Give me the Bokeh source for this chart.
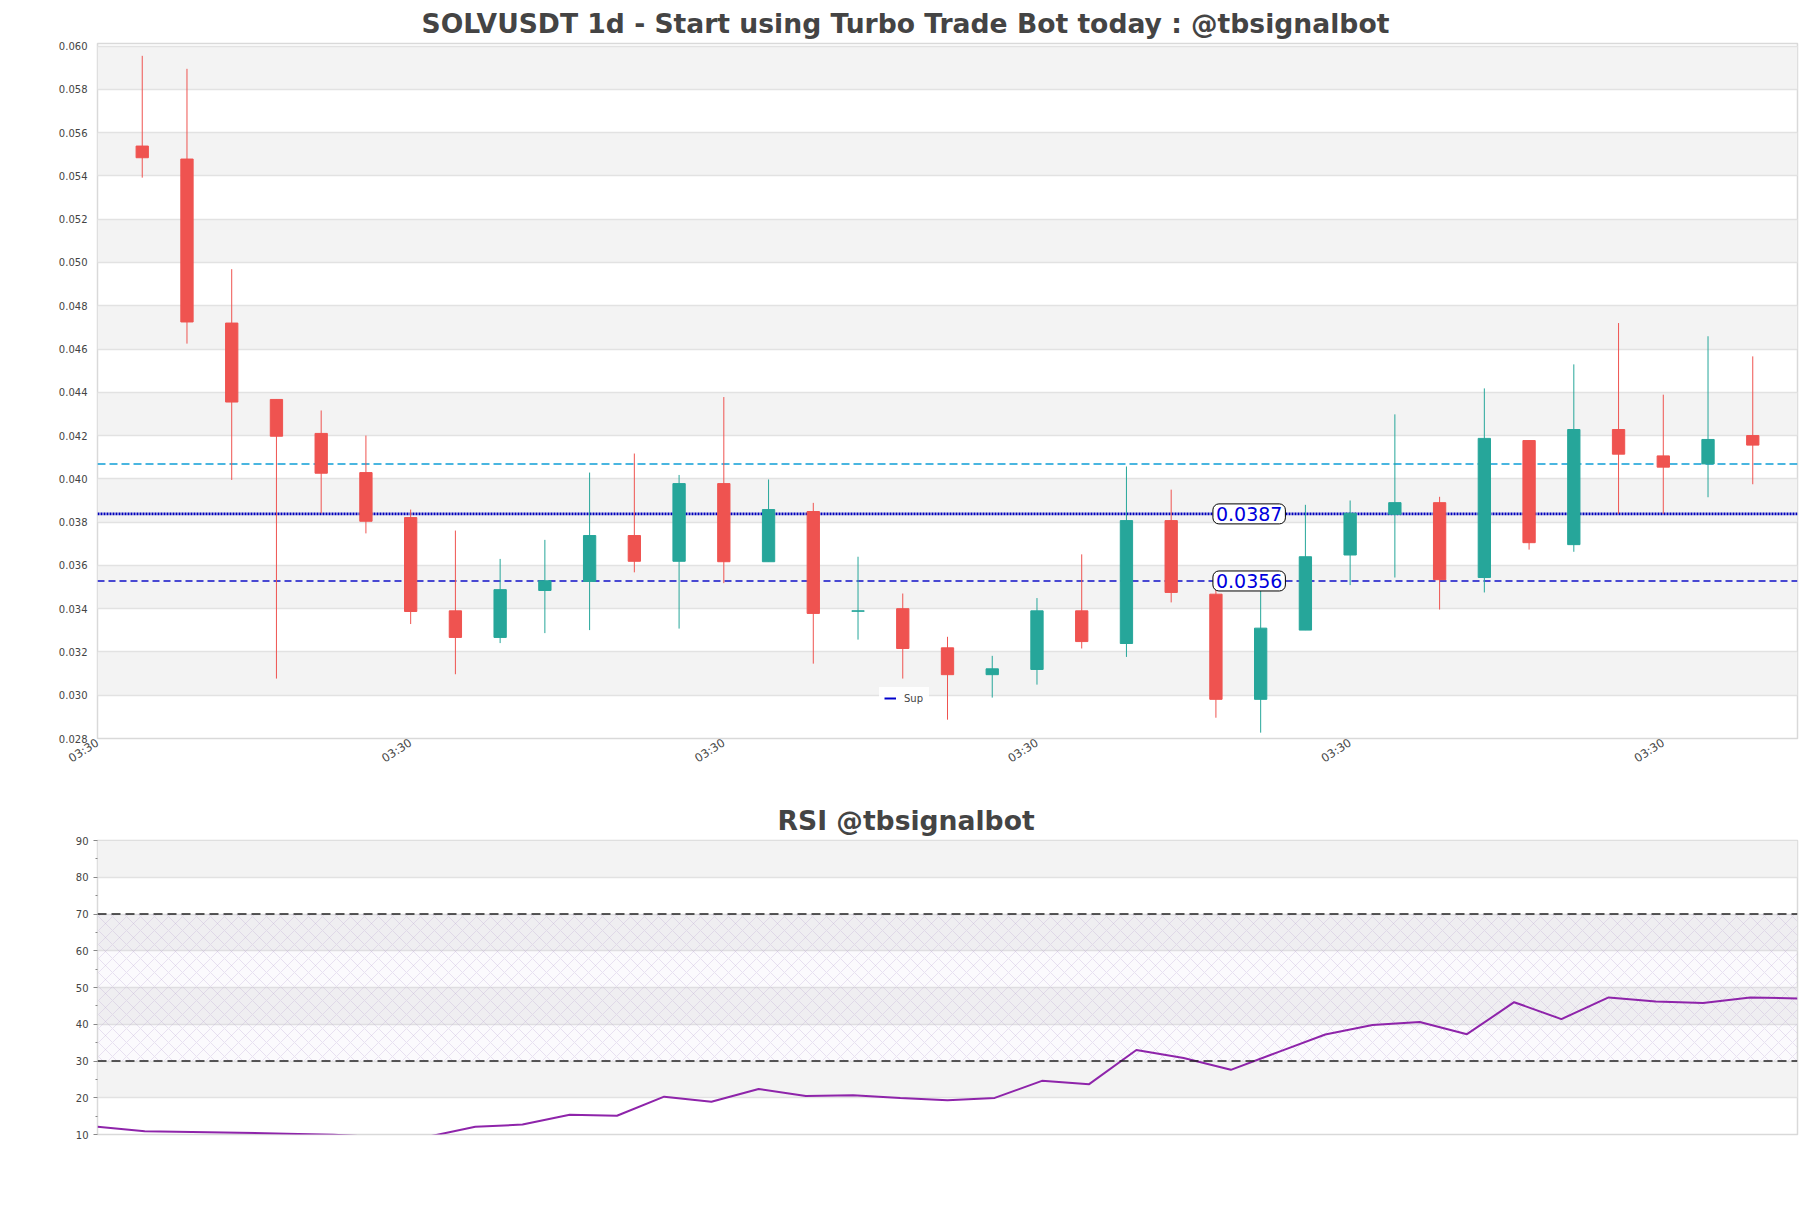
import numpy as np
import pandas as pd
from bokeh.plotting import figure
from bokeh.layouts import column
from bokeh.models import (Range1d, FixedTicker, PrintfTickFormatter,
                          DatetimeTickFormatter, Span, Label, BoxAnnotation, Legend, LegendItem)
from bokeh.embed import file_html
from bokeh.resources import INLINE

# ---------------- data ----------------
dates = pd.date_range("2025-02-18 03:30", periods=37, freq="D")
opens = [0.05538, 0.05478, 0.04720, 0.04367, 0.04210, 0.04029, 0.03821, 0.03390, 0.03267, 0.03484,
         0.03526, 0.03738, 0.03619, 0.03978, 0.03617, 0.03849, 0.03388, 0.03400, 0.03219, 0.03095,
         0.03119, 0.03390, 0.03239, 0.03807, 0.03467, 0.02981, 0.03301, 0.03648, 0.03836, 0.03890,
         0.03544, 0.04177, 0.03696, 0.04228, 0.04106, 0.04069, 0.04200]
closes = [0.05484, 0.04725, 0.04355, 0.04197, 0.04026, 0.03804, 0.03387, 0.03267, 0.03488, 0.03529,
          0.03738, 0.03619, 0.03978, 0.03617, 0.03858, 0.03378, 0.03390, 0.03216, 0.03095, 0.03122,
          0.03390, 0.03248, 0.03807, 0.03475, 0.02981, 0.03310, 0.03640, 0.03841, 0.03890, 0.03534,
          0.04187, 0.03705, 0.04228, 0.04114, 0.04054, 0.04182, 0.04156]
highs = [0.05955, 0.05895, 0.04969, 0.04367, 0.04316, 0.04200, 0.03858, 0.03761, 0.03630, 0.03718,
         0.04029, 0.04117, 0.04018, 0.04378, 0.03997, 0.03889, 0.03640, 0.03470, 0.03270, 0.03182,
         0.03449, 0.03651, 0.04057, 0.03950, 0.03490, 0.03488, 0.03880, 0.03900, 0.04298, 0.03917,
         0.04418, 0.04177, 0.04529, 0.04720, 0.04389, 0.04659, 0.04566]
lows = [0.05392, 0.04625, 0.03995, 0.03077, 0.03841, 0.03748, 0.03329, 0.03097, 0.03241, 0.03287,
        0.03301, 0.03568, 0.03308, 0.03518, 0.03617, 0.03146, 0.03257, 0.03077, 0.02887, 0.02989,
        0.03049, 0.03216, 0.03177, 0.03429, 0.02896, 0.02827, 0.03301, 0.03509, 0.03544, 0.03396,
        0.03475, 0.03673, 0.03663, 0.03838, 0.03838, 0.03915, 0.03975]
rsi = [12.1, 10.9, 10.7, 10.5, 10.2, 9.9, 9.3, 9.4, 12.1, 12.7,
       15.4, 15.1, 20.3, 18.9, 22.4, 20.5, 20.7, 19.95, 19.3, 19.95,
       24.6, 23.7, 33.0, 30.8, 27.6, 32.4, 37.2, 39.8, 40.6, 37.3,
       46.0, 41.4, 47.3, 46.2, 45.8, 47.3, 47.0]
price_ticks = [0.028, 0.030, 0.032, 0.034, 0.036, 0.038, 0.040, 0.042, 0.044,
               0.046, 0.048, 0.050, 0.052, 0.054, 0.056, 0.058, 0.060]
rsi_ticks = [10, 20, 30, 40, 50, 60, 70, 80, 90]
resistance_level = 0.04069
pivot_level = 0.03838
support_level = 0.03528
pivot_label = "0.0387"
support_label = "0.0356"
rsi_levels = [70, 30]
tick_format = "%H:%M"

# ---------------- derived ----------------
DAY = 86400000.0
x = np.array([d.timestamp() * 1000.0 for d in dates])
o = np.array(opens); c = np.array(closes)
colors = ["#26a69a" if cc >= oo else "#ef5350" for oo, cc in zip(opens, closes)]
body_top = np.maximum(o, c)
body_bot = np.minimum(o, c)

FONT = "DejaVu Sans"
W = 1811
H1 = 790
H2 = 418

# ---------------- main candle chart ----------------
p = figure(width=W, height=H1, x_axis_type="datetime", output_backend="svg", toolbar_location=None,
           x_range=Range1d(x[0] - DAY, x[-1] + DAY), y_range=Range1d(price_ticks[0], 0.06012),
           min_border_left=97, min_border_right=14, min_border_top=43, min_border_bottom=52)
p.title.text = "SOLVUSDT 1d - Start using Turbo Trade Bot today : @tbsignalbot"
p.title.align = "left"
p.title.offset = 324
p.title.text_font = FONT
p.title.text_font_size = "26.6px"
p.title.text_font_style = "bold"
p.title.text_color = "#444444"
p.outline_line_color = "#d9d9d9"
p.outline_line_width = 1.5

yt = FixedTicker(ticks=price_ticks, minor_ticks=[])
p.yaxis.ticker = yt
p.ygrid.ticker = yt
p.ygrid.band_fill_color = "#f3f3f3"
p.ygrid.band_fill_alpha = 1.0
p.ygrid.grid_line_color = "#e2e2e2"
p.ygrid.grid_line_width = 1.3
p.xgrid.visible = False
p.yaxis.formatter = PrintfTickFormatter(format="%.3f")
p.yaxis.major_tick_out = 0
p.yaxis.major_tick_in = 0
p.yaxis.minor_tick_line_color = None
p.yaxis.axis_line_color = None
p.yaxis.major_label_standoff = 10
p.yaxis.major_label_text_font = FONT
p.yaxis.major_label_text_font_size = "10px"
p.yaxis.major_label_text_color = "#444444"

xticks = [x[0] - DAY] + list(x[6::7])
p.xaxis.ticker = FixedTicker(ticks=xticks)
p.xaxis.formatter = DatetimeTickFormatter(
    milliseconds=tick_format, seconds=tick_format, minsec=tick_format, minutes=tick_format,
    hourmin=tick_format, hours=tick_format, days=tick_format, months=tick_format, years=tick_format)
p.xaxis.major_label_orientation = 0.57
p.xaxis.major_tick_out = 0
p.xaxis.major_tick_in = 0
p.xaxis.minor_tick_line_color = None
p.xaxis.axis_line_color = None
p.xaxis.major_label_standoff = 3
p.xaxis.major_label_text_font = FONT
p.xaxis.major_label_text_font_size = "11.5px"
p.xaxis.major_label_text_color = "#444444"

p.add_layout(Span(location=resistance_level, dimension="width", line_color="#0f9fd6",
                  line_width=1.5, line_dash="8 4", level="underlay"))
p.add_layout(Span(location=pivot_level, dimension="width", line_color="#0000bb",
                  line_width=2.6, line_dash="2 1", level="underlay"))
p.add_layout(Span(location=support_level, dimension="width", line_color="#1010c8",
                  line_width=1.4, line_dash="7 4", level="underlay"))

p.segment(x, lows, x, highs, line_color=colors, line_width=1)
p.vbar(x=x, width=0.275 * DAY, top=body_top, bottom=body_bot, fill_color=colors,
       line_color=colors, line_width=1)

for lvl, txt in [(pivot_level, pivot_label), (support_level, support_label)]:
    p.add_layout(Label(x=x[24], y=lvl, text=txt, text_align="left", text_baseline="middle",
                       x_offset=-3, text_font=FONT, text_font_size="19px", text_color="#0000dd",
                       background_fill_color="white", border_line_color="black",
                       border_line_width=1, border_radius=6, padding=3))

dummy = p.line(x=[x[0], x[1]], y=[np.nan, np.nan], line_color="#0000cc", line_width=2)
legend = Legend(items=[LegendItem(label="Sup", renderers=[dummy])], location=(782, 29),
                label_text_font=FONT, label_text_font_size="10px", glyph_width=12,
                glyph_height=12, label_height=12, padding=5, margin=0, spacing=0,
                label_standoff=8, border_line_alpha=0, background_fill_alpha=0.9)
p.add_layout(legend)

# ---------------- RSI chart ----------------
r = figure(width=W, height=H2, output_backend="svg", toolbar_location=None,
           x_range=Range1d(0, len(rsi) - 1), y_range=Range1d(rsi_ticks[0], rsi_ticks[-1]),
           min_border_left=97, min_border_right=14, min_border_top=50, min_border_bottom=74)
r.title.text = "RSI @tbsignalbot"
r.title.align = "left"
r.title.offset = 680
r.title.text_font = FONT
r.title.text_font_size = "26.6px"
r.title.text_font_style = "bold"
r.title.text_color = "#444444"
r.outline_line_color = "#d9d9d9"
r.outline_line_width = 1.5
r.xaxis.visible = False
r.xgrid.visible = False
rt = FixedTicker(ticks=rsi_ticks, minor_ticks=[t + 5 for t in rsi_ticks[:-1]])
r.yaxis.ticker = rt
r.ygrid.ticker = rt
r.ygrid.band_fill_color = "#f3f3f3"
r.ygrid.band_fill_alpha = 1.0
r.ygrid.grid_line_color = "#e2e2e2"
r.ygrid.grid_line_width = 1.3
r.yaxis.axis_line_color = None
r.yaxis.major_tick_out = 4
r.yaxis.major_tick_in = 0
r.yaxis.minor_tick_out = 2
r.yaxis.minor_tick_in = 0
r.yaxis.major_tick_line_color = "#888888"
r.yaxis.minor_tick_line_color = "#888888"
r.yaxis.major_label_standoff = 5
r.yaxis.major_label_text_font = FONT
r.yaxis.major_label_text_font_size = "10px"
r.yaxis.major_label_text_color = "#444444"

r.add_layout(BoxAnnotation(bottom=rsi_levels[1], top=rsi_levels[0], fill_color="#9575cd",
                           fill_alpha=0.035, line_alpha=0, hatch_pattern="x",
                           hatch_color="#b9a3cf", hatch_alpha=0.5, hatch_scale=14,
                           hatch_weight=0.6, level="underlay"))
for lv in rsi_levels:
    r.add_layout(Span(location=lv, dimension="width", line_color="#222222",
                      line_width=1.3, line_dash="9 5"))
r.line(list(range(len(rsi))), rsi, line_color="#8e24aa", line_width=2)

layout = column(p, r, spacing=0)
open("out.html", "w").write(file_html(layout, INLINE))
